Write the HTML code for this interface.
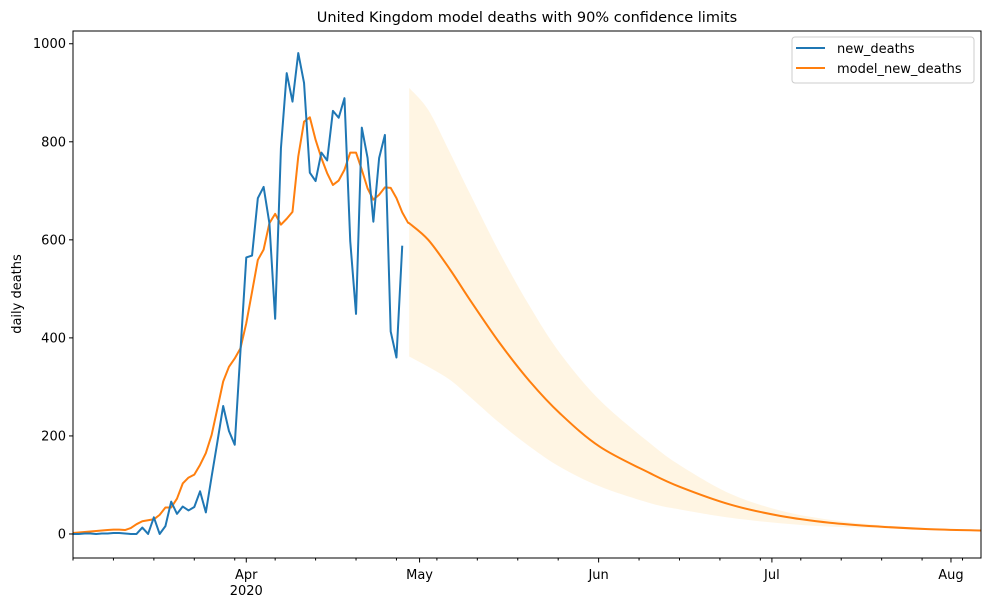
<!DOCTYPE html>
<html><head><meta charset="utf-8"><style>
body{margin:0;background:#fff;}
svg{display:block;font-family:"DejaVu Sans","Liberation Sans",sans-serif;}
</style></head><body>
<svg id="chart" width="991" height="608" viewBox="0 0 991 608">
<text x="527" y="22" font-size="14.5" text-anchor="middle">United Kingdom model deaths with 90% confidence limits</text>
<text transform="translate(21,294) rotate(-90)" font-size="13" text-anchor="middle">daily deaths</text>
<g id="band"></g><g id="lines"></g><g id="axes"></g>
<g>
<rect x="792" y="37" width="182" height="46" rx="3" fill="#fff" fill-opacity="0.8" stroke="#ccc"/>
<line x1="796" y1="48" x2="825" y2="48" stroke="#1f77b4" stroke-width="2"/>
<text x="837" y="53" font-size="13">new_deaths</text>
<line x1="796" y1="68" x2="825" y2="68" stroke="#ff7f0e" stroke-width="2"/>
<text x="837" y="73" font-size="13">model_new_deaths</text>
</g>
</svg>
<script>
const observed = [0,0,1,1,0,1,1,2,2,1,0,0,13,0,34,0,16,66,41,56,48,55,87,44,117,188,261,210,182,375,564,568,685,708,634,439,787,940,882,981,920,737,720,778,762,863,849,889,597,449,829,767,637,767,814,413,360,588];
const modelFit = [2,3,4,5,6,7,8,9,9,8,12,20,26,28,30,39,54,54,72,103,115,121,141,165,202,256,311,341,358,379,430,494,559,580,634,653,631,643,657,770,841,850,804,767,736,712,721,743,778,778,743,705,682,692,707,706,685,656,635];
const fcDays = [58.2,61.5,65.3,68.7,73.9,79.1,84.3,91.2,99.9,105.1,113.8,122.4,131,139.7,148,157.2];
const fcMid = [634,600,539,478,389,311,246,178,124,96,60,37,23,15,10,7];
const fcUpper = [910,865,777,695,573,464,369,273,185,140,82,48,29,18,12,8];
const fcLower = [362,341,314,280,226,178,137,97,63,50,33,22,15,12,9,6];
const yTicks = [0,200,400,600,800,1000];
const monthDays = [30,60,91,121,152];
const monthLabels = ["Apr","May","Jun","Jul","Aug"];

const L=73,R=981,T=31,B=558,D0=0,D1=157.2,Y0=-49,Y1=1026;
const sx=d=>L+(d-D0)/(D1-D0)*(R-L);
const sy=v=>B-(v-Y0)/(Y1-Y0)*(B-T);
const NS="http://www.w3.org/2000/svg";
function mk(tag,attrs,parent){const e=document.createElementNS(NS,tag);for(const k in attrs)e.setAttribute(k,attrs[k]);parent.appendChild(e);return e;}
function smooth(xs,ys){let p=`M${sx(xs[0])},${sy(ys[0])}`;for(let i=0;i<xs.length-1;i++){const i0=Math.max(0,i-1),i3=Math.min(xs.length-1,i+2);const x0=sx(xs[i0]),y0=sy(ys[i0]),x1=sx(xs[i]),y1=sy(ys[i]),x2=sx(xs[i+1]),y2=sy(ys[i+1]),x3=sx(xs[i3]),y3=sy(ys[i3]);p+=` C${x1+(x2-x0)/6},${y1+(y2-y0)/6} ${x2-(x3-x1)/6},${y2-(y3-y1)/6} ${x2},${y2}`;}return p;}
const band=document.getElementById('band'),lines=document.getElementById('lines'),axes=document.getElementById('axes');
let up=smooth(fcDays,fcUpper);
let lo=smooth(fcDays.slice().reverse(),fcLower.slice().reverse()).replace(/^M/,'L');
const bp=mk('path',{d:up+' '+lo+' Z',fill:'rgba(255,165,0,0.11)',stroke:'none'},band);


let mp=modelFit.map((v,i)=>(i?'L':'M')+sx(i)+','+sy(v)).join(' ')+' '+smooth(fcDays,fcMid).replace(/^M/,'L');
const ml=mk('path',{d:mp,fill:'none',stroke:'#ff7f0e','stroke-width':2,'stroke-linejoin':'round'},lines);


const ol=mk('path',{d:observed.map((v,i)=>(i?'L':'M')+sx(i)+','+sy(v)).join(' '),fill:'none',stroke:'#1f77b4','stroke-width':2,'stroke-linejoin':'round'},lines);


const fr=mk('rect',{x:L,y:T,width:R-L,height:B-T,fill:'none',stroke:'#000','stroke-width':1},axes);


yTicks.forEach(v=>{const y=sy(v);mk('line',{x1:L-4,x2:L,y1:y,y2:y,stroke:'#000'},axes);
const t=mk('text',{x:L-7,y:y+4.5,'font-size':13,'text-anchor':'end'},axes);t.textContent=v;

});
for(let d=0;d<=D1;d+=7){if(monthDays.includes(d))continue;const x=sx(d);mk('line',{x1:x,x2:x,y1:B,y2:B+2.5,stroke:'#000'},axes);}
monthDays.forEach((d,i)=>{const x=sx(d);mk('line',{x1:x,x2:x,y1:B,y2:B+4.5,stroke:'#000'},axes);
const t=mk('text',{x:x,y:B+21,'font-size':13,'text-anchor':'middle'},axes);t.textContent=monthLabels[i];

});
const yr=mk('text',{x:sx(30),y:B+37,'font-size':13,'text-anchor':'middle'},axes);yr.textContent='2020';


</script>
</body></html>
